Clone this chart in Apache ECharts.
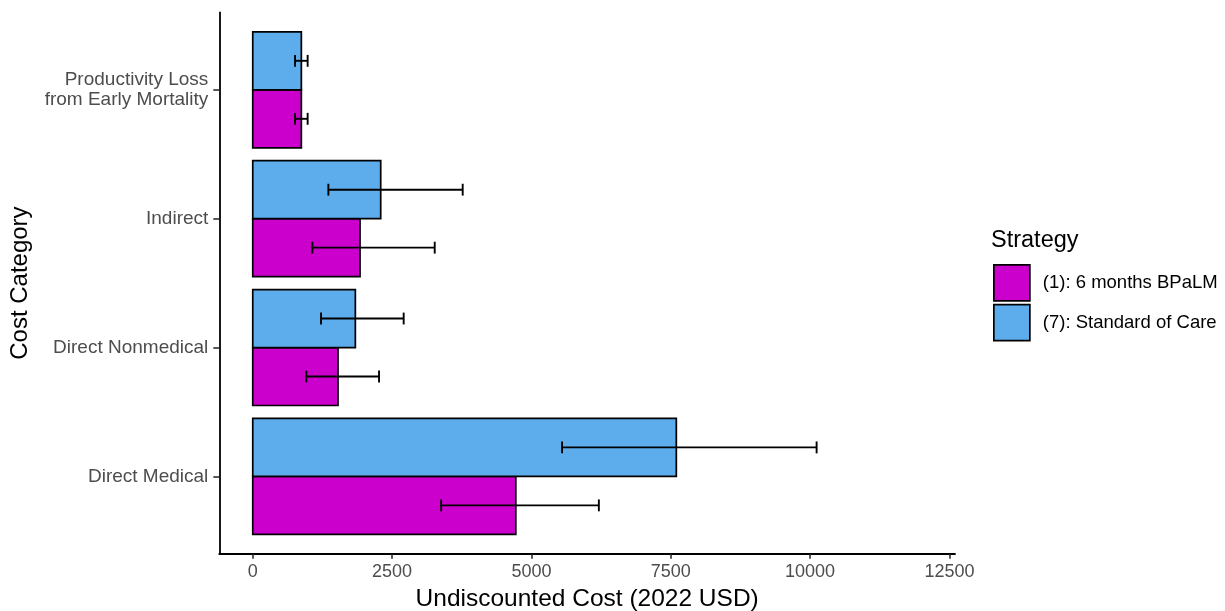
<!DOCTYPE html>
<html>
<head>
<meta charset="utf-8">
<script src="https://cdn.jsdelivr.net/npm/echarts@6/dist/echarts.min.js"></script>
<style>
html,body{margin:0;padding:0;background:#fff;}
#chart{width:1225px;height:611px;}
</style>
</head>
<body>
<div id="chart"></div>
<script>
// Categories, bottom to top
const categories = ['Direct Medical', 'Direct Nonmedical', 'Indirect', 'Productivity Loss\nfrom Early Mortality'];
const strategies = ['(1): 6 months BPaLM', '(7): Standard of Care'];
// (1): 6 months BPaLM
const bpalmCost = [4720, 1530, 1925, 872];
const bpalmLow  = [3380, 962, 1070, 759];
const bpalmHigh = [6210, 2266, 3265, 985];
// (7): Standard of Care
const socCost = [7600, 1841, 2296, 872];
const socLow  = [5550, 1225, 1357, 759];
const socHigh = [10117, 2708, 3767, 985];
const xTicks = [0, 2500, 5000, 7500, 10000, 12500];
const yTicks = [0, 1, 2, 3];

const COLORS = ['#CC00CC', '#5DADEC'];
const FONT = '"Liberation Sans", Arial, Helvetica, sans-serif';

function makeData(cost, low, high) {
  return cost.map((v, i) => [i, v, low[i], high[i]]);
}

function makeRender(side, color) {
  return function (params, api) {
    const i = api.value(0), v = api.value(1), lo = api.value(2), hi = api.value(3);
    const yA = side < 0 ? i - 0.45 : i;
    const yB = side < 0 ? i : i + 0.45;
    const pTop = api.coord([0, yB]);
    const pBot = api.coord([v, yA]);
    const yc = (yA + yB) / 2;
    const a = api.coord([lo, yc]);
    const b = api.coord([hi, yc]);
    const wTop = api.coord([lo, yc + 0.046])[1];
    const wBot = api.coord([lo, yc - 0.046])[1];
    return {
      type: 'group',
      children: [
        { type: 'rect', shape: { x: pTop[0], y: pTop[1], width: pBot[0] - pTop[0], height: pBot[1] - pTop[1] },
          style: { fill: color, stroke: '#000', lineWidth: 1.7 } },
        { type: 'line', shape: { x1: a[0], y1: a[1], x2: b[0], y2: b[1] }, style: { stroke: '#000', lineWidth: 1.9 } },
        { type: 'line', shape: { x1: a[0], y1: wTop, x2: a[0], y2: wBot }, style: { stroke: '#000', lineWidth: 1.9 } },
        { type: 'line', shape: { x1: b[0], y1: wTop, x2: b[0], y2: wBot }, style: { stroke: '#000', lineWidth: 1.9 } }
      ]
    };
  };
}

const chart = echarts.init(document.getElementById('chart'), null, { renderer: 'canvas' });
chart.setOption({
  animation: false,
  backgroundColor: '#fff',
  textStyle: { fontFamily: FONT },
  grid: { left: 219.3, right: 270, top: 12.5, bottom: 57.3, containLabel: false, outerBoundsMode: 'none' },
  title: {
    text: 'Strategy', left: 991, top: 229, padding: 0,
    textStyle: { fontFamily: FONT, fontSize: 23.5, fontWeight: 'normal', color: '#000' }
  },
  legend: {
    data: strategies,
    orient: 'vertical', left: 993, top: 264, padding: 0,
    itemWidth: 36, itemHeight: 36, itemGap: 2,
    icon: 'rect',
    itemStyle: { borderColor: '#000', borderWidth: 1.7 },
    textStyle: { fontFamily: FONT, fontSize: 18.5, color: '#000', padding: [0, 0, 0, 8] },
    selectedMode: false
  },
  xAxis: {
    type: 'value', min: -600, max: 12600,
    name: 'Undiscounted Cost (2022 USD)', nameLocation: 'middle', nameGap: 33,
    nameTextStyle: { fontFamily: FONT, fontSize: 24.5, color: '#000' },
    axisLine: { show: true, onZero: false, lineStyle: { color: '#000', width: 1.8 } },
    axisTick: { show: true, customValues: xTicks, length: 5, lineStyle: { color: '#222', width: 1.5 } },
    axisLabel: {
      customValues: xTicks, margin: 9, fontSize: 18, color: '#4D4D4D', fontFamily: FONT,
      formatter: function (v) { return String(Math.round(v)); }
    },
    splitLine: { show: false }
  },
  yAxis: {
    type: 'value', min: -0.6, max: 3.6,
    name: 'Cost Category', nameLocation: 'middle', nameGap: 187, nameRotate: 90,
    nameTextStyle: { fontFamily: FONT, fontSize: 24, color: '#000' },
    axisLine: { show: true, onZero: false, lineStyle: { color: '#000', width: 1.8 } },
    axisTick: { show: true, customValues: yTicks, length: 6, lineStyle: { color: '#222', width: 1.5 } },
    axisLabel: {
      customValues: yTicks, margin: 11, fontSize: 19, lineHeight: 20, color: '#4D4D4D', fontFamily: FONT,
      align: 'right',
      formatter: function (v) { return categories[Math.round(v)]; }
    },
    splitLine: { show: false }
  },
  series: [
    {
      name: strategies[0], type: 'custom',
      itemStyle: { color: COLORS[0], borderColor: '#000', borderWidth: 1.7 },
      encode: { x: [1, 2, 3], y: 0 },
      renderItem: makeRender(-1, COLORS[0]),
      data: makeData(bpalmCost, bpalmLow, bpalmHigh)
    },
    {
      name: strategies[1], type: 'custom',
      itemStyle: { color: COLORS[1], borderColor: '#000', borderWidth: 1.7 },
      encode: { x: [1, 2, 3], y: 0 },
      renderItem: makeRender(1, COLORS[1]),
      data: makeData(socCost, socLow, socHigh)
    }
  ]
});
</script>
</body>
</html>
